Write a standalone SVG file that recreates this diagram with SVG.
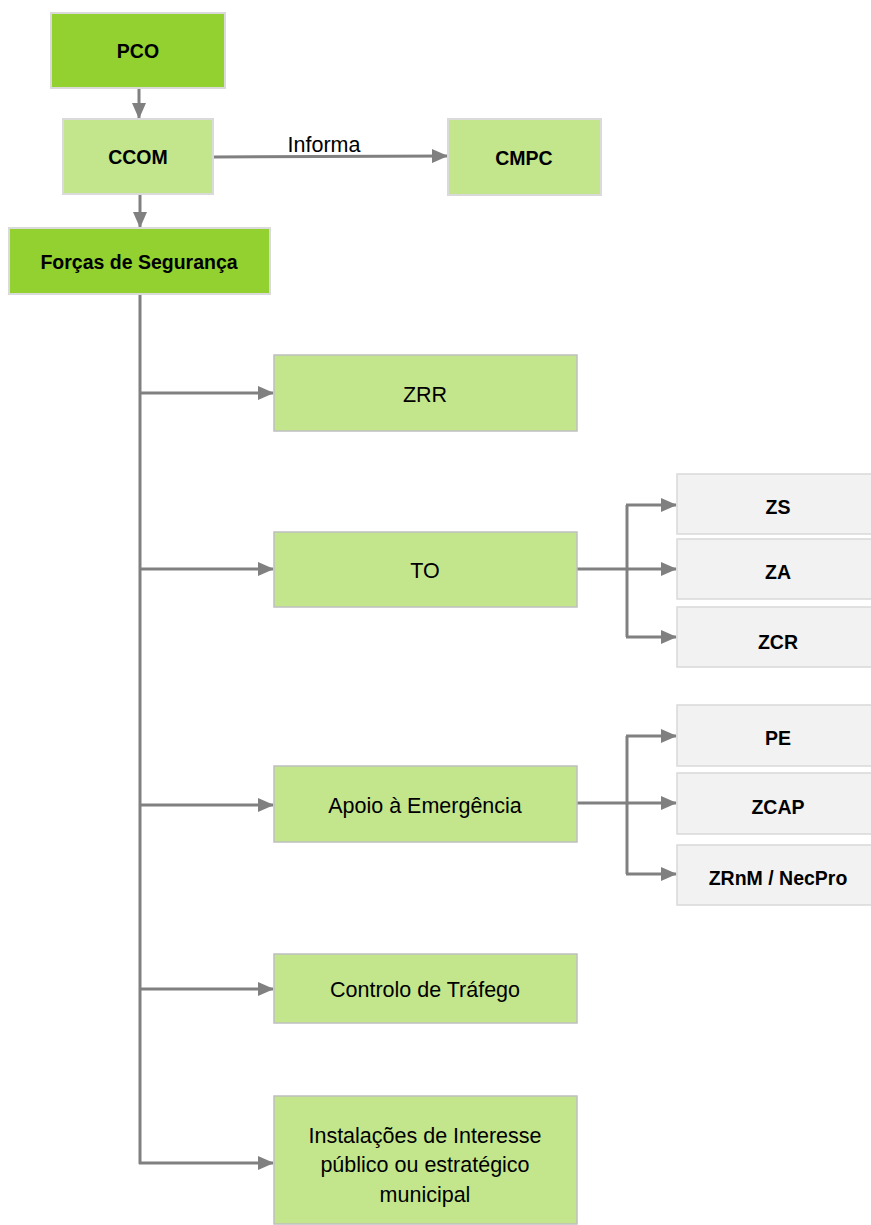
<svg xmlns="http://www.w3.org/2000/svg" width="871" height="1225" viewBox="0 0 871 1225">
<defs>
<marker id="ah" markerUnits="userSpaceOnUse" markerWidth="16" markerHeight="14" refX="15" refY="7" orient="auto">
<path d="M0,0 L16,7 L0,14 z" fill="#808080"/>
</marker>
<style>
.dk{fill:#92D12F;stroke:#DADADA;stroke-width:2}
.lt{fill:#C3E68C;stroke:#BFBFBF;stroke-width:1.5}
.lt2{fill:#C3E68C;stroke:#DADADA;stroke-width:2}
.gy{fill:#F2F2F2;stroke:#D9D9D9;stroke-width:1.5}
.b{font-family:"Liberation Sans",Arial,sans-serif;font-weight:bold;font-size:19.5px;fill:#000;text-anchor:middle;dominant-baseline:central}
.r{font-family:"Liberation Sans",Arial,sans-serif;font-size:21.5px;fill:#000;text-anchor:middle;dominant-baseline:central}
.c{fill:none;stroke:#808080;stroke-width:3}
</style>
</defs>
<rect width="871" height="1225" fill="#fff"/>
<g id="connectors">
<line class="c" x1="139" y1="88" x2="139" y2="118" marker-end="url(#ah)"/>
<line class="c" x1="140" y1="194" x2="140" y2="227" marker-end="url(#ah)"/>
<line class="c" x1="213" y1="157" x2="447" y2="156" marker-end="url(#ah)"/>
<text class="r" x="324" y="145">Informa</text>
<line class="c" x1="140" y1="294" x2="140" y2="1164"/>
<line class="c" x1="139" y1="393" x2="273" y2="393" marker-end="url(#ah)"/>
<line class="c" x1="139" y1="569" x2="273" y2="569" marker-end="url(#ah)"/>
<line class="c" x1="139" y1="805" x2="273" y2="805" marker-end="url(#ah)"/>
<line class="c" x1="139" y1="989" x2="273" y2="989" marker-end="url(#ah)"/>
<line class="c" x1="139" y1="1163" x2="273" y2="1163" marker-end="url(#ah)"/>
<line class="c" x1="577" y1="569" x2="676" y2="569" marker-end="url(#ah)"/>
<line class="c" x1="627" y1="505" x2="627" y2="637"/>
<line class="c" x1="626" y1="505" x2="676" y2="505" marker-end="url(#ah)"/>
<line class="c" x1="626" y1="637" x2="676" y2="637" marker-end="url(#ah)"/>
<line class="c" x1="577" y1="803" x2="676" y2="803" marker-end="url(#ah)"/>
<line class="c" x1="627" y1="736" x2="627" y2="874"/>
<line class="c" x1="626" y1="736" x2="676" y2="736" marker-end="url(#ah)"/>
<line class="c" x1="626" y1="874" x2="676" y2="874" marker-end="url(#ah)"/>
</g>
<g id="PCO"><rect class="dk" x="51" y="13" width="174" height="75"/><text class="b" x="138" y="51">PCO</text></g>
<g id="CCOM"><rect class="lt2" x="63" y="119" width="150" height="75"/><text class="b" x="138" y="157">CCOM</text></g>
<g id="CMPC"><rect class="lt2" x="448" y="119" width="153" height="76"/><text class="b" x="524" y="158">CMPC</text></g>
<g id="FS"><rect class="dk" x="9" y="228" width="261" height="66"/><text class="b" x="139" y="262">Forças de Segurança</text></g>
<g id="ZRR"><rect class="lt" x="274" y="355" width="303" height="76"/><text class="r" x="425" y="395">ZRR</text></g>
<g id="TO"><rect class="lt" x="274" y="532" width="303" height="75"/><text class="r" x="425" y="571">TO</text></g>
<g id="Apoio"><rect class="lt" x="274" y="766" width="303" height="76"/><text class="r" x="425" y="806">Apoio à Emergência</text></g>
<g id="Controlo"><rect class="lt" x="274" y="954" width="303" height="69"/><text class="r" x="425" y="990">Controlo de Tráfego</text></g>
<g id="Instalacoes"><rect class="lt" x="274" y="1096" width="303" height="128"/>
<text class="r" x="425" y="1136">Instalações de Interesse</text>
<text class="r" x="425" y="1165">público ou estratégico</text>
<text class="r" x="425" y="1195">municipal</text></g>
<g id="ZS"><rect class="gy" x="677" y="474" width="204" height="60"/><text class="b" x="778" y="507">ZS</text></g>
<g id="ZA"><rect class="gy" x="677" y="539" width="204" height="60"/><text class="b" x="778" y="572">ZA</text></g>
<g id="ZCR"><rect class="gy" x="677" y="607" width="204" height="60"/><text class="b" x="778" y="642">ZCR</text></g>
<g id="PE"><rect class="gy" x="677" y="705" width="204" height="61"/><text class="b" x="778" y="738">PE</text></g>
<g id="ZCAP"><rect class="gy" x="677" y="773" width="204" height="61"/><text class="b" x="778" y="807">ZCAP</text></g>
<g id="ZRnM"><rect class="gy" x="677" y="845" width="204" height="60"/><text class="b" x="778" y="878">ZRnM / NecPro</text></g>
</svg>
